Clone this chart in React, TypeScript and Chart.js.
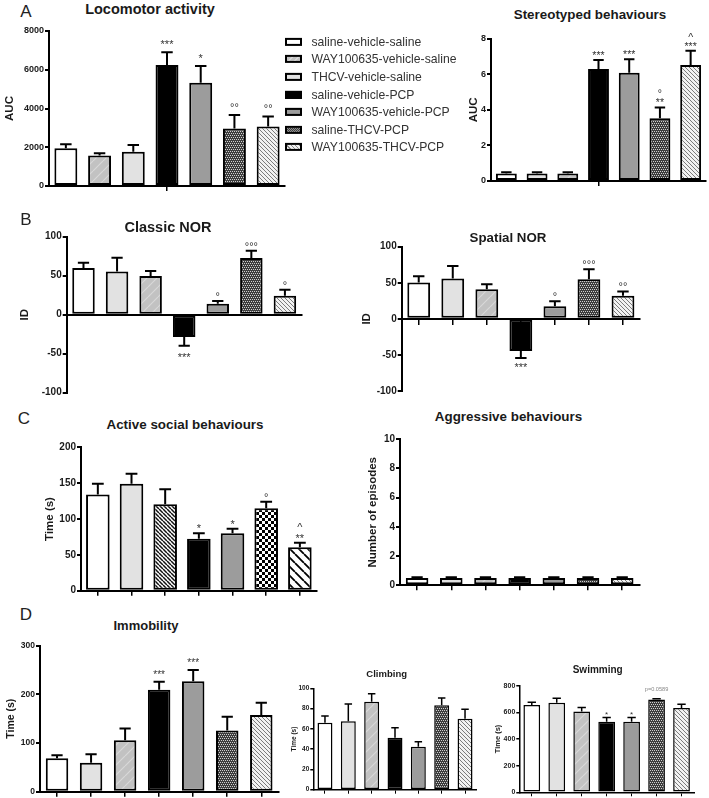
import React, { useEffect, useRef } from 'react';
import { Chart, registerables } from 'chart.js';

Chart.register(...registerables);

const FONT = 'Arial, "Liberation Sans", Helvetica, sans-serif';

// ---------- data ----------
const groups = [
  'saline-vehicle-saline',
  'WAY100635-vehicle-saline',
  'THCV-vehicle-saline',
  'saline-vehicle-PCP',
  'WAY100635-vehicle-PCP',
  'saline-THCV-PCP',
  'WAY100635-THCV-PCP',
];

// A - Locomotor activity (AUC)
const locomotorMeans = [1950, 1570, 1770, 6250, 5330, 2970, 3070];
const locomotorSem = [200, 120, 350, 650, 870, 700, 520];
const locomotorMarks = [[], [], [], ['***'], ['*'], ['°°'], ['°°']];
const locomotorTicks = [0, 2000, 4000, 6000, 8000];

// A - Stereotyped behaviours (AUC)
const stereoMeans = [0.42, 0.42, 0.42, 6.3, 6.08, 3.53, 6.52];
const stereoSem = [0.07, 0.07, 0.07, 0.5, 0.76, 0.6, 0.8];
const stereoMarks = [[], [], [], ['***'], ['***'], ['°', '**'], ['^', '***']];
const stereoTicks = [0, 2, 4, 6, 8];

// B - Classic NOR (ID)
const classicMeans = [60, 55.5, 49.5, -28.7, 14, 72.6, 24.4];
const classicSem = [6.7, 17.5, 6.5, 11, 3.5, 9.4, 7.6];
const classicMarks = [[], [], [], ['***'], ['°'], ['°°°'], ['°']];
const norTicks = [-100, -50, 0, 50, 100];

// B - Spatial NOR (ID)
const spatialMeans = [50.4, 56, 41, -44.7, 17.6, 55, 31.9];
const spatialSem = [8.6, 17.4, 7, 9.7, 6.9, 13.8, 6.1];
const spatialMarks = [[], [], [], ['***'], ['°'], ['°°°'], ['°°']];

// C - Active social behaviours (Time (s))
const socialMeans = [134, 149, 120.5, 72.5, 80, 115, 60.5];
const socialSem = [15.2, 14, 21, 7.5, 6.5, 9, 6.5];
const socialMarks = [[], [], [], ['*'], ['*'], ['°'], ['^', '**']];
const socialTicks = [0, 50, 100, 150, 200];

// C - Aggressive behaviours (Number of episodes)
const aggressiveMeans = [0.5, 0.5, 0.5, 0.5, 0.5, 0.5, 0.5];
const aggressiveSem = [0.05, 0.05, 0.05, 0.05, 0.05, 0.05, 0.05];
const aggressiveMarks = [[], [], [], [], [], [], []];
const aggressiveTicks = [0, 2, 4, 6, 8, 10];

// D - Immobility (Time (s))
const immobilityMeans = [68.6, 59.6, 105.6, 209.6, 226.8, 126, 157.6];
const immobilitySem = [6.2, 17.2, 24.4, 16.4, 23.2, 28, 25.2];
const immobilityMarks = [[], [], [], ['***'], ['***'], [], []];
const immobilityTicks = [0, 100, 200, 300];

// D - Climbing (Time (s))
const climbingMeans = [66, 67.5, 86.8, 51.3, 42.4, 83.3, 70];
const climbingSem = [6.7, 17.1, 7.9, 9.9, 5, 7.2, 9.3];
const climbingMarks = [[], [], [], [], [], [], []];
const climbingTicks = [0, 20, 40, 60, 80, 100];

// D - Swimming (Time (s))
const swimmingMeans = [655, 672, 607, 530, 530, 697, 632];
const swimmingSem = [20, 33, 30, 32, 32, 5, 28];
const swimmingMarks = [[], [], [], ['*'], ['*'], ['p=0.0589'], []];
const swimmingTicks = [0, 200, 400, 600, 800];

// ---------- fills ----------
function makePattern(size: number, bg: string, draw: (g: CanvasRenderingContext2D, s: number) => void) {
  const c = document.createElement('canvas');
  c.width = size;
  c.height = size;
  const g = c.getContext('2d')!;
  g.fillStyle = bg;
  g.fillRect(0, 0, size, size);
  draw(g, size);
  return g.createPattern(c, 'repeat')!;
}
function diag(g: CanvasRenderingContext2D, s: number, color: string, lw: number, dir: number) {
  g.strokeStyle = color;
  g.lineWidth = lw;
  g.beginPath();
  for (let k = -1; k <= 1; k++) {
    if (dir > 0) {
      g.moveTo(k * s, s);
      g.lineTo(k * s + s, 0);
    } else {
      g.moveTo(k * s, 0);
      g.lineTo(k * s + s, s);
    }
  }
  g.stroke();
}
function getFill(name: string): any {
  switch (name) {
    case 'white': return '#ffffff';
    case 'light': return '#e2e2e2';
    case 'black': return '#000000';
    case 'gray': return '#9c9c9c';
    case 'grayHatch': return makePattern(10, '#c2c2c2', (g, s) => diag(g, s, '#d8d8d8', 1.2, 1));
    case 'checker': return makePattern(4, '#3c3c3c', (g) => {
      g.fillStyle = '#cfcfcf';
      g.fillRect(0, 0, 1, 1); g.fillRect(2, 0, 1, 1); g.fillRect(1, 2, 1, 1); g.fillRect(3, 2, 1, 1);
    });
    case 'diagLight': return makePattern(4, '#f2f2f2', (g, s) => diag(g, s, '#7c7c7c', 1, -1));
    case 'denseDark': return makePattern(4, '#ffffff', (g, s) => diag(g, s, '#111111', 1.5, -1));
    case 'bigChecker': return makePattern(6, '#ffffff', (g) => {
      g.fillStyle = '#000'; g.fillRect(0, 0, 3, 3); g.fillRect(3, 3, 3, 3);
    });
    case 'sparseDiag': return makePattern(9, '#ffffff', (g, s) => diag(g, s, '#000000', 1.8, -1));
    default: return '#ffffff';
  }
}

const STD_FILLS = ['white', 'light', 'grayHatch', 'black', 'gray', 'checker', 'diagLight'];
const LOCO_FILLS = ['white', 'grayHatch', 'light', 'black', 'gray', 'checker', 'diagLight'];
const SOCIAL_FILLS = ['white', 'light', 'denseDark', 'black', 'gray', 'bigChecker', 'sparseDiag'];

// ---------- error bar + significance plugin ----------
const errorBarPlugin = {
  id: 'errorBars',
  afterDatasetsDraw(chart: any, _args: any, opts: any) {
    const { ctx } = chart;
    const meta = chart.getDatasetMeta(0);
    const data = chart.data.datasets[0].data;
    const y = chart.scales.y;
    meta.data.forEach((bar: any, i: number) => {
      const v = data[i];
      const s = opts.sems[i];
      const dir = v < 0 ? -1 : 1;
      const ye = y.getPixelForValue(v + dir * s);
      ctx.save();
      ctx.strokeStyle = '#000';
      ctx.lineWidth = opts.lw;
      ctx.beginPath();
      ctx.moveTo(bar.x, bar.y);
      ctx.lineTo(bar.x, ye);
      const cw = (bar.width * opts.cap) / 2;
      ctx.moveTo(bar.x - cw, ye);
      ctx.lineTo(bar.x + cw, ye);
      ctx.stroke();
      const lines: string[] = opts.marks[i] || [];
      ctx.textAlign = 'center';
      ctx.textBaseline = 'alphabetic';
      const n = lines.length;
      lines.forEach((t, k) => {
        const small = t.length > 3;
        const fs = small ? opts.markSize * 0.7 : opts.markSize;
        ctx.font = `${fs}px ${FONT}`;
        ctx.fillStyle = small ? '#888' : '#333';
        let cy;
        if (dir > 0) {
          const fromBottom = n - 1 - k;
          cy = ye - opts.gap - fromBottom * opts.lineGap - (small ? 5 : 0);
        } else {
          cy = ye + opts.negGap + k * opts.lineGap;
        }
        const base = cy + (small ? 0.35 : 0.55) * fs;
        ctx.fillText(t, bar.x, base);
      });
      ctx.restore();
    });
  },
};

// ---------- panel specs ----------
const panels: any[] = [
  {
    key: 'loco', means: locomotorMeans, sems: locomotorSem, marks: locomotorMarks, ticks: locomotorTicks,
    fills: LOCO_FILLS, yTitle: 'AUC', geo: { axisX: 49, right: 285, top: 31, bottom: 186 },
    yTitleX: 10, yTitleSize: 11.5, tickSize: 9, xTicks: 'center', zeroAxis: false, barPct: 0.68,
    markSize: 11, gap: 10, negGap: 9, lineGap: 9, cap: 0.5, lw: 2,
    title: 'Locomotor activity', tx: 150, ty: 9, tsize: 14.5,
  },
  {
    key: 'stereo', means: stereoMeans, sems: stereoSem, marks: stereoMarks, ticks: stereoTicks,
    fills: STD_FILLS, yTitle: 'AUC', geo: { axisX: 491, right: 706, top: 38.7, bottom: 181 },
    yTitleX: 473.5, yTitleSize: 11.5, tickSize: 9, xTicks: 'center', zeroAxis: false, barPct: 0.68,
    markSize: 10.5, gap: 7, negGap: 9, lineGap: 9, cap: 0.5, lw: 2,
    title: 'Stereotyped behaviours', tx: 590, ty: 15, tsize: 13.4,
  },
  {
    key: 'classic', means: classicMeans, sems: classicSem, marks: classicMarks, ticks: norTicks,
    fills: STD_FILLS, yTitle: 'ID', geo: { axisX: 66.7, right: 301.7, top: 236.7, bottom: 392.7 },
    yTitleX: 25, yTitleSize: 11.5, tickSize: 10, xTicks: 'none', zeroAxis: true, barPct: 0.67,
    markSize: 11, gap: 7, negGap: 9.5, lineGap: 9, cap: 0.5, lw: 2,
    title: 'Classic NOR', tx: 168, ty: 227, tsize: 14.5,
  },
  {
    key: 'spatial', means: spatialMeans, sems: spatialSem, marks: spatialMarks, ticks: norTicks,
    fills: STD_FILLS, yTitle: 'ID', geo: { axisX: 401.7, right: 640, top: 246.7, bottom: 391 },
    yTitleX: 367, yTitleSize: 11.5, tickSize: 10, xTicks: 'all', zeroAxis: true, barPct: 0.67,
    markSize: 11, gap: 7, negGap: 7, lineGap: 9, cap: 0.5, lw: 2,
    title: 'Spatial NOR', tx: 508, ty: 238, tsize: 13.3,
  },
  {
    key: 'social', means: socialMeans, sems: socialSem, marks: socialMarks, ticks: socialTicks,
    fills: SOCIAL_FILLS, yTitle: 'Time (s)', geo: { axisX: 81, right: 316.7, top: 447.3, bottom: 590.7 },
    yTitleX: 50, yTitleSize: 11.5, tickSize: 10, xTicks: 'all', zeroAxis: false, barPct: 0.7,
    markSize: 11, gap: 7, negGap: 9, lineGap: 10.5, cap: 0.5, lw: 2,
    title: 'Active social behaviours', tx: 185, ty: 425, tsize: 13.4,
  },
  {
    key: 'aggr', means: aggressiveMeans, sems: aggressiveSem, marks: aggressiveMarks, ticks: aggressiveTicks,
    fills: STD_FILLS, yTitle: 'Number of episodes', geo: { axisX: 400, right: 639.3, top: 439.3, bottom: 585.3 },
    yTitleX: 373, yTitleSize: 11.5, tickSize: 10, xTicks: 'all', zeroAxis: false, barPct: 0.66,
    markSize: 11, gap: 7, negGap: 9, lineGap: 9, cap: 0.5, lw: 2,
    title: 'Aggressive behaviours', tx: 508.5, ty: 417, tsize: 13.4,
  },
  {
    key: 'immob', means: immobilityMeans, sems: immobilitySem, marks: immobilityMarks, ticks: immobilityTicks,
    fills: STD_FILLS, yTitle: 'Time (s)', geo: { axisX: 40, right: 278.3, top: 645.7, bottom: 791.7 },
    yTitleX: 11, yTitleSize: 10.5, tickSize: 8.5, xTicks: 'all', zeroAxis: false, barPct: 0.66,
    markSize: 10, gap: 9.5, negGap: 9, lineGap: 9, cap: 0.5, lw: 2,
    title: 'Immobility', tx: 146, ty: 625, tsize: 13,
  },
  {
    key: 'climb', means: climbingMeans, sems: climbingSem, marks: climbingMarks, ticks: climbingTicks,
    fills: STD_FILLS, yTitle: 'Time (s)', geo: { axisX: 313.3, right: 476.7, top: 688.3, bottom: 789.7 },
    yTitleX: 294, yTitleSize: 6.5, tickSize: 6.5, xTicks: 'all', zeroAxis: false, barPct: 0.64,
    markSize: 7, gap: 5, negGap: 6, lineGap: 7, cap: 0.5, lw: 1.5, small: true,
    title: 'Climbing', tx: 386.7, ty: 674, tsize: 9.5,
  },
  {
    key: 'swim', means: swimmingMeans, sems: swimmingSem, marks: swimmingMarks, ticks: swimmingTicks,
    fills: STD_FILLS, yTitle: 'Time (s)', geo: { axisX: 519.3, right: 694, top: 685.7, bottom: 792.3 },
    yTitleX: 497, yTitleSize: 7.5, tickSize: 7, xTicks: 'all', zeroAxis: false, barPct: 0.67,
    markSize: 8, gap: 5, negGap: 6, lineGap: 7, cap: 0.5, lw: 1.5, small: true,
    title: 'Swimming', tx: 597.7, ty: 670, tsize: 10,
  },
];

function BarPanel({ spec }: { spec: any }) {
  const ref = useRef<HTMLCanvasElement>(null);
  const g = spec.geo;
  const lh = spec.yTitleSize * 1.2;
  const left = Math.round(spec.yTitleX - lh / 2);
  const wy = g.axisX - left;
  const top = Math.round(g.top - 10);
  const padTop = g.top - top;
  const hx = spec.zeroAxis ? 0 : 6;
  const plotW = g.right - g.axisX;
  const plotH = g.bottom - g.top;
  const width = Math.ceil(wy + plotW + 4);
  const padRight = width - wy - plotW;
  const height = Math.ceil(padTop + plotH + hx + (spec.zeroAxis ? 9 : 3));
  const padBottom = height - hx - (g.bottom - top);

  useEffect(() => {
    const canvas = ref.current!;
    const tickColor = (c: any) => {
      if (spec.xTicks === 'all') return '#000';
      if (spec.xTicks === 'center') return c.index === 3 ? '#000' : 'rgba(0,0,0,0)';
      return 'rgba(0,0,0,0)';
    };
    const lw = spec.small ? 1.5 : 2;
    const chart = new Chart(canvas, {
      type: 'bar',
      data: {
        labels: groups,
        datasets: [
          {
            data: spec.means,
            backgroundColor: spec.fills.map((f: string) => getFill(f)),
            borderColor: '#000',
            borderWidth: lw,
            borderSkipped: false,
            categoryPercentage: 1,
            barPercentage: spec.barPct,
          },
        ],
      },
      options: {
        animation: false,
        responsive: false,
        maintainAspectRatio: false,
        events: [],
        layout: { padding: { top: padTop, right: padRight, bottom: padBottom, left: 0 } },
        plugins: {
          legend: { display: false },
          tooltip: { enabled: false },
          title: { display: false },
          errorBars: {
            sems: spec.sems, marks: spec.marks, cap: spec.cap, lw: spec.lw,
            markSize: spec.markSize, gap: spec.gap, negGap: spec.negGap, lineGap: spec.lineGap,
          },
        } as any,
        scales: {
          x: {
            type: 'category',
            position: spec.zeroAxis ? ({ y: 0 } as any) : 'bottom',
            offset: true,
            grid: {
              display: true, offset: false, drawOnChartArea: false, drawTicks: true,
              tickLength: spec.small ? 4 : 5, lineWidth: spec.small ? 1 : 1.5, color: tickColor,
            },
            border: { display: true, color: '#000', width: lw },
            ticks: { display: false },
            afterFit: (s: any) => { s.height = hx; },
          },
          y: {
            type: 'linear',
            min: spec.ticks[0],
            max: spec.ticks[spec.ticks.length - 1],
            afterBuildTicks: (s: any) => { s.ticks = spec.ticks.map((v: number) => ({ value: v })); },
            grid: {
              display: true, drawOnChartArea: false, drawTicks: true,
              tickLength: spec.small ? 3 : 4, lineWidth: lw, color: '#000',
            },
            border: { display: true, color: '#000', width: lw },
            ticks: {
              font: { family: FONT, size: spec.tickSize, weight: 'bold' },
              color: '#1a1a1a',
              padding: 1,
              callback: (v: any) => String(v),
            },
            title: {
              display: true, text: spec.yTitle, color: '#1a1a1a', padding: 0,
              font: { family: FONT, size: spec.yTitleSize, weight: 'bold' },
            },
            afterFit: (s: any) => { s.width = wy; },
          },
        },
      } as any,
      plugins: [errorBarPlugin],
    });
    return () => chart.destroy();
  }, []);

  return (
    <canvas
      ref={ref}
      width={width}
      height={height}
      style={{ position: 'absolute', left, top, width, height }}
    />
  );
}

const LEGEND_FILLS = ['white', 'grayHatch', 'light', 'black', 'gray', 'checker', 'diagLight'];
const LEGEND_CSS: Record<string, string> = {
  white: '#fff',
  grayHatch: 'repeating-linear-gradient(-45deg, #c2c2c2 0px, #c2c2c2 3px, #d8d8d8 3px, #d8d8d8 4.5px)',
  light: '#e2e2e2',
  black: '#000',
  gray: '#9c9c9c',
  checker: 'repeating-conic-gradient(#333 0% 25%, #999 0% 50%) 0 0 / 2px 2px',
  diagLight: 'repeating-linear-gradient(45deg, #f0f0f0 0px, #f0f0f0 2px, #888 2px, #888 3px)',
};

const panelLetters = [
  { t: 'A', x: 26, y: 11 },
  { t: 'B', x: 26, y: 219 },
  { t: 'C', x: 24, y: 418 },
  { t: 'D', x: 26, y: 614 },
];

export default function App() {
  return (
    <div
      style={{
        position: 'absolute', left: 0, top: 0, width: 709, height: 798,
        background: '#fff', overflow: 'hidden', fontFamily: FONT,
      }}
    >
      {panels.map((p) => (
        <BarPanel key={p.key} spec={p} />
      ))}
      {panels.map((p) => (
        <div
          key={'t' + p.key}
          style={{
            position: 'absolute', left: p.tx, top: p.ty, transform: 'translate(-50%, -50%)',
            fontSize: p.tsize, fontWeight: 'bold', color: '#1a1a1a', whiteSpace: 'nowrap', lineHeight: 1,
          }}
        >
          {p.title}
        </div>
      ))}
      {panelLetters.map((l) => (
        <div
          key={l.t}
          style={{
            position: 'absolute', left: l.x, top: l.y, transform: 'translate(-50%, -50%)',
            fontSize: 17, color: '#222', lineHeight: 1,
          }}
        >
          {l.t}
        </div>
      ))}
      {groups.map((gname, i) => (
        <div
          key={gname}
          style={{
            position: 'absolute', left: 285, top: 41.7 + i * 17.6, transform: 'translateY(-50%)',
            display: 'flex', alignItems: 'center', whiteSpace: 'nowrap',
          }}
        >
          <div
            style={{
              width: 17, height: 8, boxSizing: 'border-box', border: '2px solid #000',
              background: LEGEND_CSS[LEGEND_FILLS[i]],
            }}
          />
          <span style={{ marginLeft: 9.5, fontSize: 12.2, color: '#333', lineHeight: 1 }}>{gname}</span>
        </div>
      ))}
    </div>
  );
}
